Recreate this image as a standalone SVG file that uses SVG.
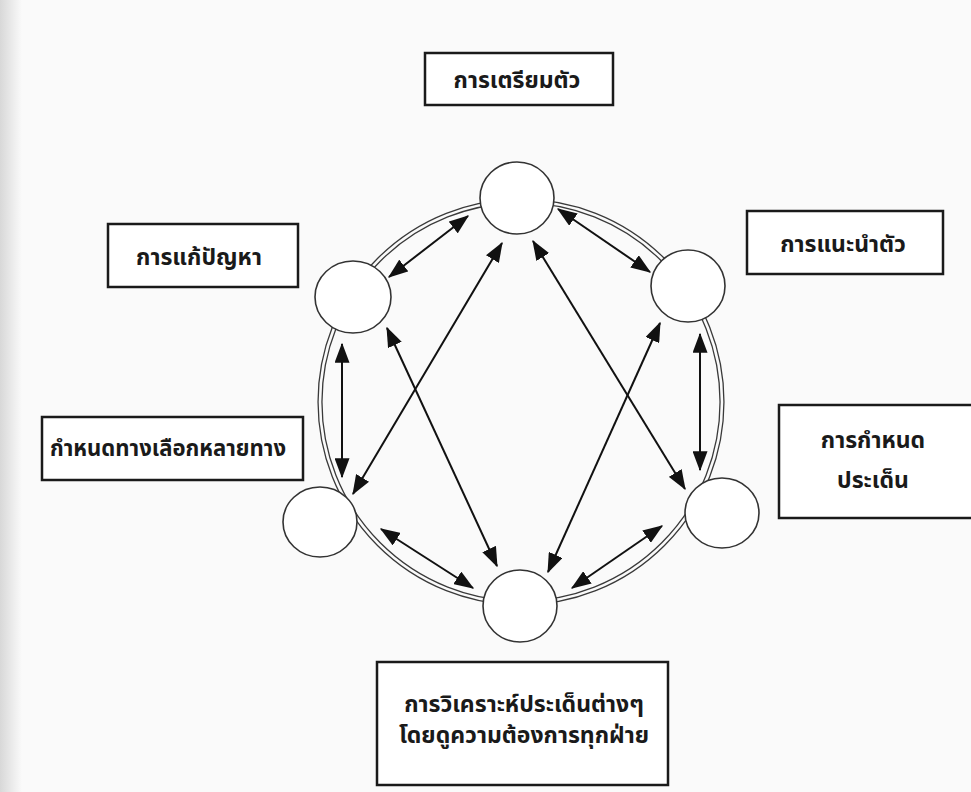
<svg xmlns="http://www.w3.org/2000/svg" width="971" height="792" viewBox="0 0 971 792">
<defs>
<marker id="ah" viewBox="0 0 16 12" refX="15" refY="6" markerWidth="10" markerHeight="7.5" orient="auto-start-reverse" markerUnits="strokeWidth">
<path d="M0,0 L16,6 L0,12 z" fill="#111"/>
</marker>
<linearGradient id="edge" x1="0" y1="0" x2="1" y2="0">
<stop offset="0" stop-color="#d8d8d8"/>
<stop offset="1" stop-color="#fafafa"/>
</linearGradient>
<style>
.box{fill:#fff;stroke:#1a1a1a;stroke-width:2.5}
.node{fill:#fff;stroke:#333;stroke-width:1.6}
.lbl{font-family:"Noto Sans Thai","Noto Sans","DejaVu Sans",sans-serif;font-size:23px;font-weight:bold;fill:#1a1a1a;text-anchor:middle}
.arr{stroke:#111;stroke-width:2;fill:none;marker-start:url(#ah);marker-end:url(#ah)}
</style>
</defs>
<rect width="971" height="792" fill="#fafafa"/>
<rect width="22" height="792" fill="url(#edge)"/>
<g id="ring">
<ellipse cx="521" cy="402" rx="201" ry="201" fill="none" stroke="#3a3a3a" stroke-width="5.2"/>
<ellipse cx="521" cy="402" rx="201" ry="201" fill="none" stroke="#fafafa" stroke-width="2.6"/>
</g>
<g id="connectors">
<line class="arr" x1="468" y1="216" x2="389" y2="277"/>
<line class="arr" x1="558" y1="209" x2="650" y2="272"/>
<line class="arr" x1="342" y1="344" x2="342" y2="477"/>
<line class="arr" x1="700" y1="334" x2="700" y2="470"/>
<line class="arr" x1="381" y1="529" x2="473" y2="588"/>
<line class="arr" x1="662" y1="526" x2="572" y2="588"/>
<line class="arr" x1="502" y1="243" x2="353" y2="494"/>
<line class="arr" x1="533" y1="241" x2="685" y2="489"/>
<line class="arr" x1="387" y1="328" x2="497" y2="566"/>
<line class="arr" x1="660" y1="323" x2="548" y2="572"/>
</g>
<g id="n-top"><ellipse class="node" cx="517" cy="198" rx="37" ry="36"/></g>
<g id="n-ul"><ellipse class="node" cx="353" cy="297" rx="38" ry="36"/></g>
<g id="n-ur"><ellipse class="node" cx="688" cy="286" rx="37" ry="36"/></g>
<g id="n-ll"><ellipse class="node" cx="320" cy="522" rx="37" ry="35"/></g>
<g id="n-lr"><ellipse class="node" cx="722" cy="513" rx="37" ry="35"/></g>
<g id="n-bot"><ellipse class="node" cx="520" cy="606" rx="37" ry="36"/></g>
<g id="b-prepare">
<rect class="box" x="425" y="53" width="188" height="52"/>
<text class="lbl" x="517" y="88">การเตรียมตัว</text>
</g>
<g id="b-solve">
<rect class="box" x="108" y="224" width="190" height="63"/>
<text class="lbl" x="199" y="265">การแก้ปัญหา</text>
</g>
<g id="b-intro">
<rect class="box" x="747" y="211" width="196" height="63"/>
<text class="lbl" x="843" y="252">การแนะนำตัว</text>
</g>
<g id="b-alt">
<rect class="box" x="42" y="417" width="261" height="63"/>
<text class="lbl" x="168" y="456" textLength="236" lengthAdjust="spacingAndGlyphs">กำหนดทางเลือกหลายทาง</text>
</g>
<g id="b-issue">
<rect class="box" x="779" y="405" width="200" height="113"/>
<text class="lbl" x="873" y="448">การกำหนด</text>
<text class="lbl" x="873" y="488">ประเด็น</text>
</g>
<g id="b-analyze">
<rect class="box" x="377" y="662" width="291" height="123"/>
<text class="lbl" x="524" y="712">การวิเคราะห์ประเด็นต่างๆ</text>
<text class="lbl" x="524" y="743">โดยดูความต้องการทุกฝ่าย</text>
</g>
</svg>
